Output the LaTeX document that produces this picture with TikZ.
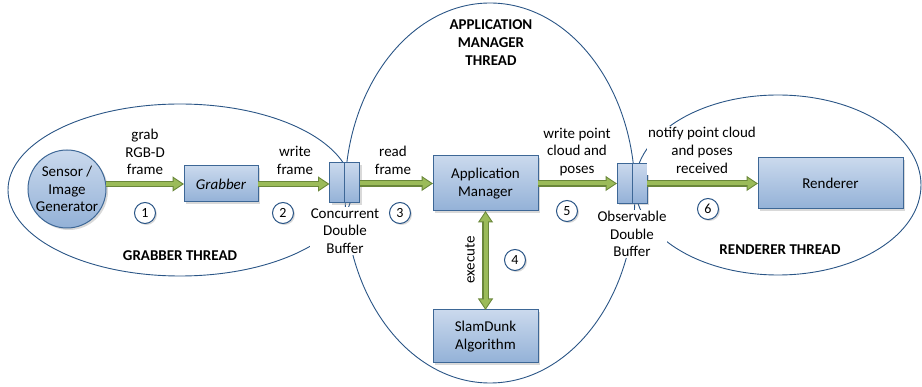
\documentclass[tikz,border=0pt]{standalone}
\usepackage{fontspec}
\setmainfont{Carlito}
\usetikzlibrary{arrows.meta,shapes.geometric,shadows,positioning}
\definecolor{boxtop}{HTML}{CAD9ED}
\definecolor{boxbot}{HTML}{93B1D7}
\definecolor{boxline}{HTML}{3D6796}
\definecolor{threadline}{HTML}{2A5586}
\definecolor{arrfill}{HTML}{9BBB59}
\definecolor{arrline}{HTML}{6A873A}

\begin{document}
\begin{tikzpicture}[x=1pt,y=-1pt,
  font=\fontsize{15}{17.8}\selectfont,
  thread/.style={ellipse, draw=threadline, line width=0.9pt, inner sep=0pt},
  block/.style={draw=boxline, line width=1pt, top color=boxtop, bottom color=boxbot,
    drop shadow={shadow xshift=2pt, shadow yshift=-2pt, opacity=0.3},
    align=center, inner sep=0pt, outer sep=0pt},
  buf/.style={block, minimum width=15pt, minimum height=40pt},
  numcirc/.style={circle, draw=threadline, line width=1pt, fill=white,
    minimum size=21pt, inner sep=0pt, font=\fontsize{14}{14}\selectfont,
    drop shadow={shadow xshift=1.5pt, shadow yshift=-1.5pt, opacity=0.3}},
  txt/.style={align=center, inner sep=1pt},
  title/.style={align=center, font=\fontsize{15}{18}\selectfont\bfseries},
  flow/.style={draw=arrfill, line width=4pt, shorten >=1.9pt,
    -{Triangle[length=8.6pt,width=10.8pt]},
    preaction={draw=arrline, line width=6.2pt, shorten >=0pt,
      -{Triangle[length=11.5pt,width=14.5pt]}}},
  flowboth/.style={draw=arrfill, line width=4pt, shorten >=1.9pt, shorten <=1.9pt,
    {Triangle[length=8.6pt,width=10.8pt]}-{Triangle[length=8.6pt,width=10.8pt]},
    preaction={draw=arrline, line width=6.2pt, shorten >=0pt, shorten <=0pt,
      {Triangle[length=11.5pt,width=14.5pt]}-{Triangle[length=11.5pt,width=14.5pt]}}}
]
\useasboundingbox (0,0) rectangle (922,387);

% threads
\node[thread, minimum width=344pt, minimum height=172pt] (grabthread) at (180,190) {};
\node[thread, minimum width=290pt, minimum height=380pt] (appthread) at (490,193) {};
\node[thread, minimum width=286pt, minimum height=180pt] (rendthread) at (778,185) {};

% blocks
\node[circle, block, minimum size=78pt] (sensor) at (67,189) {Sensor /\\Image\\Generator};
\node[block, minimum width=74pt, minimum height=36pt] (grabber) at (221,184) {\itshape Grabber};
\node[buf] (cbufA) at (337,183) {};
\node[buf, right=0pt of cbufA] (cbufB) {};
\node[block, minimum width=105pt, minimum height=55pt] (appmgr) at (485.5,183.5) {Application\\Manager};
\node[block, minimum width=105pt, minimum height=53pt] (slam) at (485.5,336.5) {SlamDunk\\Algorithm};
\node[buf] (obufA) at (624.5,183.5) {};
\node[buf, right=0pt of obufA] (obufB) {};
\node[block, minimum width=145pt, minimum height=51pt] (renderer) at (830.5,183.5) {Renderer};

% connectors
\draw[flow] (sensor.east |- grabber.west) -- (grabber.west);
\draw[flow] (grabber.east) -- (grabber.east -| cbufA.west);
\draw[flow] (cbufB.east |- appmgr.west) -- (appmgr.west);
\draw[flow] (appmgr.east) -- (appmgr.east -| obufA.west);
\draw[flow] (obufB.east |- renderer.west) -- (renderer.west);
\draw[flowboth] (appmgr.south) -- (slam.north);

% labels
\node[txt] (lgrab) at (145,152) {grab\\RGB-D\\frame};
\node[txt] (lwrite) at (295,160.5) {write\\frame};
\node[txt] (lread) at (393,160.5) {read\\frame};
\node[txt] (lpoint) at (577,152) {write point\\cloud and\\poses};
\node[txt, fill=white] (lnotify) at (702,150.5) {notify point cloud\\and poses\\received};
\node[txt, fill=white] (lcbuf) at (345,231) {Concurrent\\Double\\Buffer};
\node[txt, fill=white] (lobuf) at (632,234) {Observable\\Double\\Buffer};
\node[txt, rotate=90] (lexec) at (470,260) {execute};

\node[title] (tgrab) at (180,256) {GRABBER THREAD};
\node[title] (tapp) at (491,43) {APPLICATION\\MANAGER\\THREAD};
\node[title] (trend) at (780,250) {RENDERER THREAD};

% steps
\node[numcirc] (n1) at (145,213) {1};
\node[numcirc] (n2) at (283,213) {2};
\node[numcirc] (n3) at (400,213) {3};
\node[numcirc] (n4) at (515,260) {4};
\node[numcirc] (n5) at (567,211) {5};
\node[numcirc] (n6) at (708,209) {6};
\end{tikzpicture}
\end{document}
